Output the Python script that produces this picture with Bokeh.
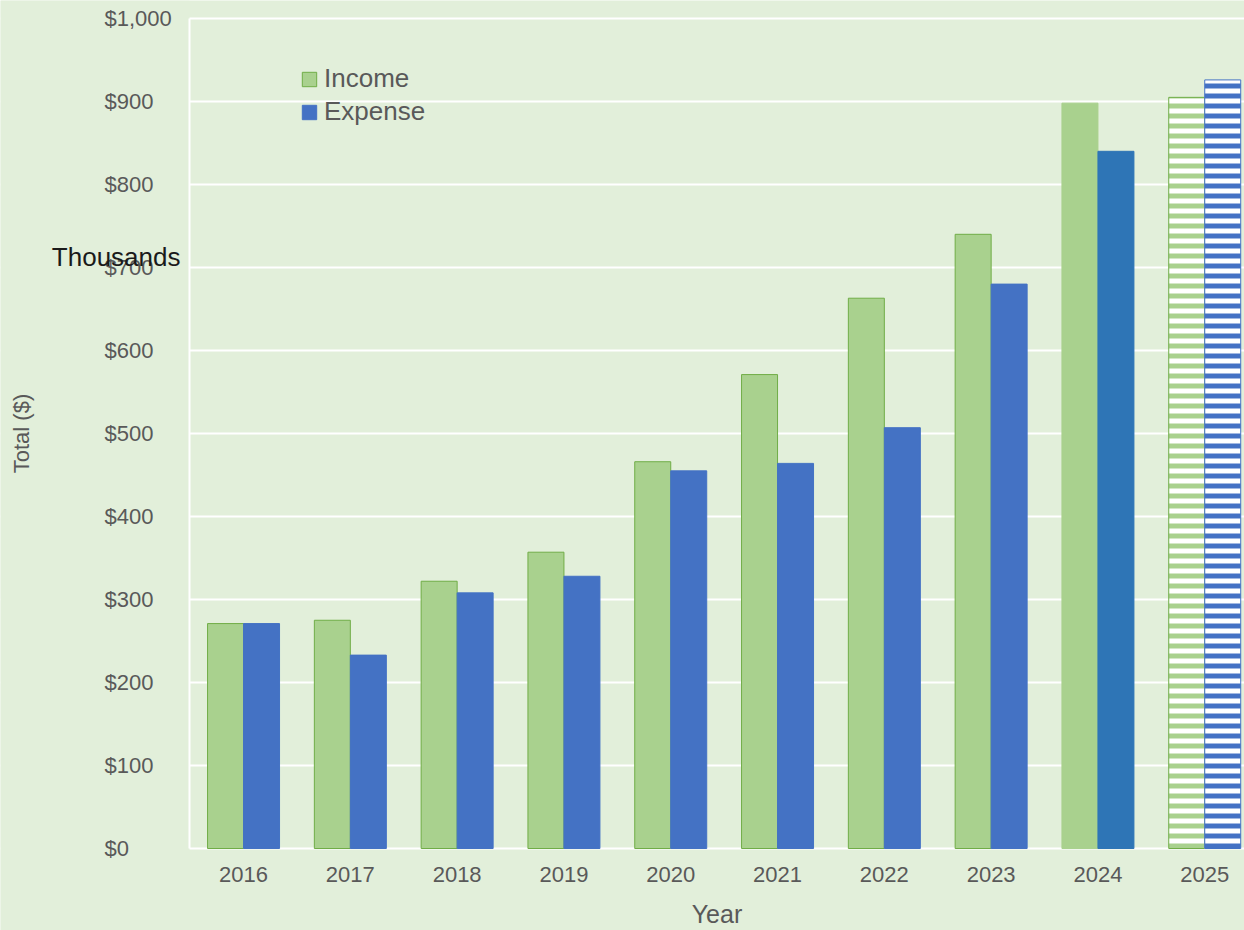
from bokeh.plotting import figure
from bokeh.models import (ColumnDataSource, Range1d, FixedTicker, NumeralTickFormatter,
                          Label, Legend, LegendItem, LinearAxis, BoxAnnotation)
from bokeh.embed import file_html
from bokeh.resources import INLINE

years = [2016, 2017, 2018, 2019, 2020, 2021, 2022, 2023, 2024, 2025]
income = [271, 275, 322, 357, 466, 571, 663, 740, 898, 905]
expense = [271, 233, 308, 328, 455, 464, 507, 680, 840, 926]
y_ticks = [0, 100, 200, 300, 400, 500, 600, 700, 800, 900, 1000]
forecast_year = 2025
highlight_year = 2024

FONT = "Liberation Sans"
BG = "#e2efda"
GREEN = "#a9d18e"
GREEN_LINE = "#70ad47"
BLUE = "#4472c4"
BLUE_2024 = "#2e75b6"
GREY = "#595959"

W, H = 1244, 930
PX_X = 106.8          # px per category
PX_Y = 0.83           # px per thousand
PLOT_LEFT = 189       # px, left edge of the bar area
PLOT_BOTTOM = 848     # px, y of the zero line
PLOT_TOP = 18

x0 = -0.506 - PLOT_LEFT / PX_X
x1 = x0 + W / PX_X
y0 = -(H - PLOT_BOTTOM) / PX_Y
y1 = 1000 + PLOT_TOP / PX_Y
area_left = -0.506

idx = list(range(len(years)))
inc_fill = ["white" if y == forecast_year else GREEN for y in years]
inc_line = [GREEN if y == highlight_year else GREEN_LINE for y in years]
inc_hatch = ["-" if y == forecast_year else " " for y in years]
exp_fill = ["white" if y == forecast_year else (BLUE_2024 if y == highlight_year else BLUE) for y in years]
exp_line = [BLUE_2024 if y == highlight_year else BLUE for y in years]
exp_hatch = ["-" if y == forecast_year else " " for y in years]

src = ColumnDataSource(dict(
    x_inc=[i - 0.1685 for i in idx], x_exp=[i + 0.1685 for i in idx],
    income=income, expense=expense,
    inc_fill=inc_fill, inc_line=inc_line, inc_hatch=inc_hatch,
    exp_fill=exp_fill, exp_line=exp_line, exp_hatch=exp_hatch,
))

p = figure(width=W, height=H, output_backend="svg", toolbar_location=None,
           x_range=Range1d(x0, x1), y_range=Range1d(y0, y1),
           min_border_left=0, min_border_right=0, min_border_top=0, min_border_bottom=0)
p.background_fill_color = BG
p.border_fill_color = BG
p.outline_line_color = None

p.xgrid.grid_line_color = None
p.ygrid.ticker = FixedTicker(ticks=y_ticks)
p.ygrid.grid_line_color = "white"
p.ygrid.grid_line_width = 2
# hide gridlines left of the bar area
p.add_layout(BoxAnnotation(right=area_left, fill_color=BG, fill_alpha=1, line_color=None,
                           level="underlay"))

r_inc = p.vbar(x="x_inc", top="income", width=0.337, source=src,
               fill_color="inc_fill", line_color="inc_line", line_width=1,
               hatch_pattern="inc_hatch", hatch_color=GREEN, hatch_scale=10, hatch_weight=5)
r_exp = p.vbar(x="x_exp", top="expense", width=0.337, source=src,
               fill_color="exp_fill", line_color="exp_line", line_width=1,
               hatch_pattern="exp_hatch", hatch_color=BLUE, hatch_scale=10, hatch_weight=5)

# x axis at y = 0
xa = p.xaxis[0]
xa.fixed_location = 0
xa.bounds = (area_left, x1)
xa.ticker = FixedTicker(ticks=idx)
xa.major_label_overrides = {i: str(y) for i, y in zip(idx, years)}
xa.axis_line_color = None
xa.major_tick_line_color = None
xa.minor_tick_line_color = None
xa.major_label_text_font = FONT
xa.major_label_text_font_size = "22px"
xa.major_label_text_color = GREY
xa.major_label_standoff = 12
xa.axis_label = "Year"
xa.axis_label_text_font = FONT
xa.axis_label_text_font_size = "25px"
xa.axis_label_text_font_style = "normal"
xa.axis_label_text_color = GREY
xa.axis_label_standoff = 15

# left axis: white rule on the edge of the bar area, with the title
ya = p.yaxis[0]
ya.fixed_location = area_left
ya.bounds = (0, 1000)
ya.ticker = FixedTicker(ticks=[])
ya.axis_line_color = "white"
ya.axis_line_width = 2
ya.major_tick_line_color = None
ya.minor_tick_line_color = None
ya.major_label_standoff = 0
ya.axis_label = "Total ($)"
ya.axis_label_text_font = FONT
ya.axis_label_text_font_size = "22px"
ya.axis_label_text_font_style = "normal"
ya.axis_label_text_color = GREY
ya.axis_label_standoff = 156

# value labels, left-aligned
lab_axis = LinearAxis(fixed_location=x0 + 98 / PX_X, ticker=FixedTicker(ticks=y_ticks),
                      formatter=NumeralTickFormatter(format="$0,0"),
                      axis_line_color=None, major_tick_line_color=None, minor_tick_line_color=None,
                      major_label_standoff=0, major_label_text_font=FONT,
                      major_label_text_font_size="22px", major_label_text_color=GREY)
p.add_layout(lab_axis, "right")

p.add_layout(Label(x=x0 + 180 / PX_X, y=713, text="Thousands",
                   text_align="right", text_baseline="middle",
                   text_font=FONT, text_font_size="26px", text_color="#1a1a1a"))

legend = Legend(items=[LegendItem(label="Income", renderers=[r_inc], index=0),
                       LegendItem(label="Expense", renderers=[r_exp], index=0)],
                location=(300, 803), orientation="vertical",
                glyph_width=18, glyph_height=18, label_height=30, spacing=2,
                label_standoff=6, padding=0, margin=0,
                border_line_color=None, background_fill_alpha=0,
                label_text_font=FONT, label_text_font_size="26px", label_text_color=GREY)
p.add_layout(legend)

open("out.html", "w").write(file_html(p, INLINE))
